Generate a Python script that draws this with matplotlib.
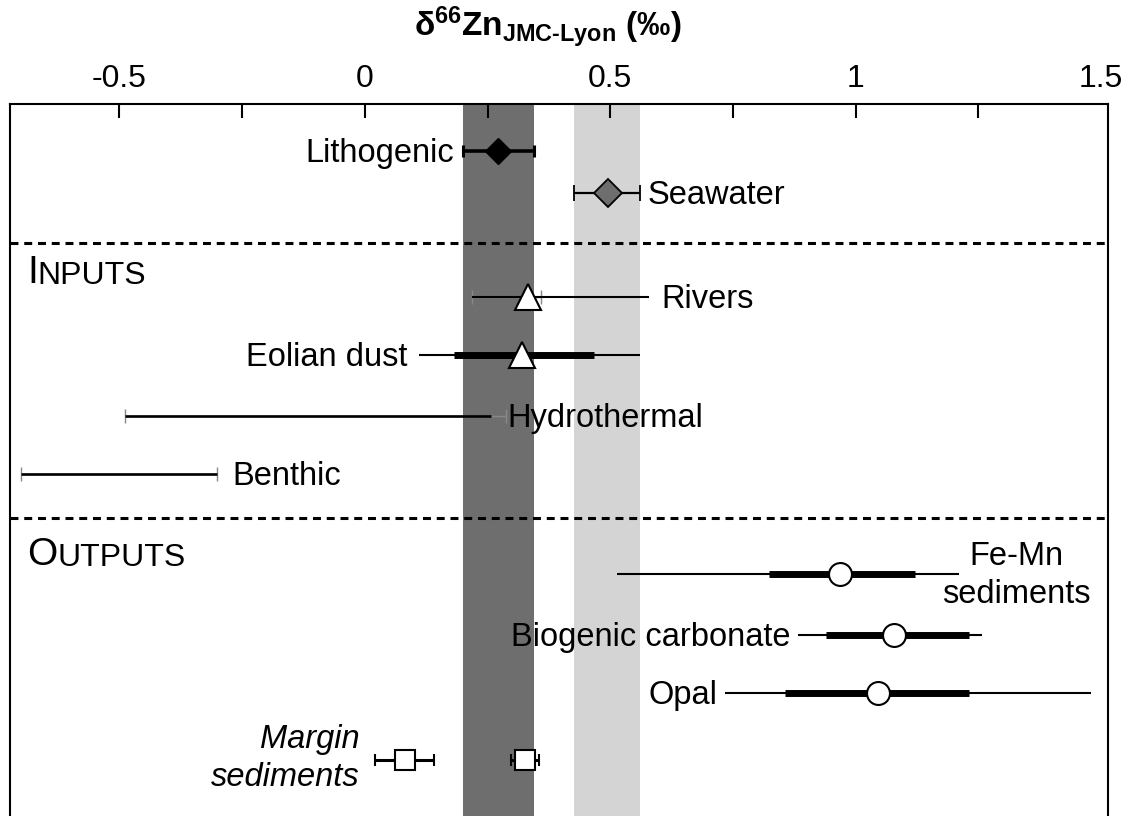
import numpy as np
import matplotlib
matplotlib.use('Agg')
import matplotlib.pyplot as plt

plt.rcParams['font.family'] = ['Liberation Sans', 'DejaVu Sans']
plt.rcParams['mathtext.fontset'] = 'custom'
plt.rcParams['mathtext.rm'] = 'Liberation Sans'
plt.rcParams['mathtext.bf'] = 'Liberation Sans:bold'
plt.rcParams['mathtext.it'] = 'Liberation Sans:italic'

# --- data (d66Zn, permil) ---
# reference reservoirs: mean and range (also used for the shaded bands)
lith_mean = 0.271
lith_range = [0.199, 0.344]
sw_mean = 0.496
sw_range = [0.426, 0.560]

# inputs
rivers_mean = 0.333
rivers_err = [0.219, 0.359]
rivers_max = 0.578
eolian_mean = 0.321
eolian_iqr = [0.181, 0.466]
eolian_range = [0.110, 0.560]
hydro_range = [-0.489, 0.287]
hydro_core = [-0.489, 0.257]
benthic_range = [-0.700, -0.302]

# outputs
out_names = ['Fe-Mn\nsediments', 'Biogenic carbonate', 'Opal']
out_mean = [0.969, 1.078, 1.045]
out_iqr_lo = [0.824, 0.939, 0.855]
out_iqr_hi = [1.121, 1.230, 1.230]
out_min = [0.514, 0.883, 0.734]
out_max = [1.211, 1.258, 1.479]

margin_mean = [0.081, 0.326]
margin_lo = [0.020, 0.298]
margin_hi = [0.140, 0.354]

x_ticks = [-0.5, -0.25, 0, 0.25, 0.5, 0.75, 1, 1.25, 1.5]

# --- layout (rows counted from top of the figure) ---
row_lith, row_sw = 151, 193
row_rivers, row_eolian, row_hydro, row_benthic = 297, 355, 416, 474
out_rows = [574, 635, 693]
row_margin = 760
sep_rows = [243, 518]

FS = 23.5
fig = plt.figure(figsize=(11.28, 8.16), dpi=100)
ax = fig.add_axes([10 / 1128, 0, 1098 / 1128, 712 / 816])
ax.set_xlim(-0.723, 1.514)
ax.set_ylim(816, 104)

# shaded bands
ax.axvspan(lith_range[0], lith_range[1], color='#6e6e6e', lw=0, zorder=0)
ax.axvspan(sw_range[0], sw_range[1], color='#d4d4d4', lw=0, zorder=0)

# dashed separators
for r in sep_rows:
    ax.axhline(r, color='black', lw=2.2, dashes=(2.6, 1.9), zorder=1)


def label(txt, x, y, side, gap, **kw):
    dx = gap * 0.72 if side == 'right' else -gap * 0.72
    ax.annotate(txt, (x, y), xytext=(dx, -8.2), textcoords='offset points',
                ha='left' if side == 'right' else 'right', va='baseline',
                fontsize=FS, **kw)


def line(x0, x1, y, lw, z=2):
    ax.plot([x0, x1], [y, y], color='black', lw=lw, solid_capstyle='butt', zorder=z)


# Lithogenic
ax.errorbar(lith_mean, row_lith,
            xerr=[[lith_mean - lith_range[0]], [lith_range[1] - lith_mean]],
            fmt='D', ms=13.5, mfc='black', mec='black', ecolor='black',
            elinewidth=2.6, capsize=4, capthick=2.2, zorder=4)
label('Lithogenic', lith_range[0], row_lith, 'left', 8)

# Seawater
ax.errorbar(sw_mean, row_sw,
            xerr=[[sw_mean - sw_range[0]], [sw_range[1] - sw_mean]],
            fmt='D', ms=14, mfc='#6e6e6e', mec='black', mew=1.3, ecolor='black',
            elinewidth=1.6, capsize=5.5, capthick=1.3, zorder=4)
label('Seawater', sw_range[1], row_sw, 'right', 8)

# INPUTS / OUTPUTS headings (small caps look)
for first, rest, r in [('I', 'NPUTS', 283), ('O', 'UTPUTS', 565)]:
    t = ax.text(17 / 1098, r, first, transform=ax.get_yaxis_transform(),
                fontsize=28, va='baseline', ha='left')
    ax.annotate(rest, xy=(1, 0), xycoords=t, fontsize=23,
                va='bottom', ha='left')

# Rivers
ax.errorbar(rivers_mean, row_rivers,
            xerr=[[rivers_mean - rivers_err[0]], [rivers_err[1] - rivers_mean]],
            fmt='none', ecolor='#888888', elinewidth=1, capsize=5, capthick=1, zorder=2)
line(rivers_err[0], rivers_max, row_rivers, 1.5)
ax.plot(rivers_mean, row_rivers, '^', ms=19, mfc='white', mec='black', mew=1.5, zorder=4)
label('Rivers', rivers_max, row_rivers, 'right', 13)

# Eolian dust
line(eolian_range[0], eolian_range[1], row_eolian, 1.5)
line(eolian_iqr[0], eolian_iqr[1], row_eolian, 5, z=3)
ax.plot(eolian_mean, row_eolian, '^', ms=19, mfc='white', mec='black', mew=1.5, zorder=4)
label('Eolian dust', eolian_range[0], row_eolian, 'left', 11)

# Hydrothermal
hydro_mid = np.mean(hydro_range)
ax.errorbar(hydro_mid, row_hydro,
            xerr=[[hydro_mid - hydro_range[0]], [hydro_range[1] - hydro_mid]],
            fmt='none', ecolor='#888888', elinewidth=1, capsize=5, capthick=1, zorder=2)
line(hydro_core[0], hydro_core[1], row_hydro, 1.9)
label('Hydrothermal', hydro_range[1], row_hydro, 'right', 2)

# Benthic
ax.errorbar(np.mean(benthic_range), row_benthic,
            xerr=(benthic_range[1] - benthic_range[0]) / 2,
            fmt='none', ecolor='#888888', elinewidth=1, capsize=5, capthick=1, zorder=2)
line(benthic_range[0], benthic_range[1], row_benthic, 1.9)
label('Benthic', benthic_range[1], row_benthic, 'right', 16)

# Outputs
for i, name in enumerate(out_names):
    y = out_rows[i]
    line(out_min[i], out_max[i], y, 1.5)
    line(out_iqr_lo[i], out_iqr_hi[i], y, 5, z=3)
    ax.plot(out_mean[i], y, 'o', ms=16.5, mfc='white', mec='black', mew=1.5, zorder=4)
    if i == 0:
        ax.annotate(name, (out_max[i], y), xytext=(41, -1), textcoords='offset points',
                    ha='center', va='center', multialignment='center', fontsize=FS,
                    linespacing=1.28)
    else:
        label(name, out_min[i], y, 'left', 8)

# Margin sediments
for m, lo, hi in zip(margin_mean, margin_lo, margin_hi):
    ax.errorbar(m, row_margin, xerr=[[m - lo], [hi - m]], fmt='s', ms=14.5,
                mfc='white', mec='black', mew=1.5, ecolor='black',
                elinewidth=2.2, capsize=4.5, capthick=2.2, zorder=4)
ax.annotate('Margin\nsediments', (margin_lo[0], row_margin), xytext=(-15 * 0.72, 1),
            textcoords='offset points', ha='right', va='center',
            multialignment='right', fontsize=FS, style='italic', linespacing=1.28)

# axes styling
ax.xaxis.set_ticks_position('top')
ax.set_xticks(x_ticks)
ax.set_xticklabels(['%g' % t if t % 0.5 == 0 else '' for t in x_ticks])
ax.tick_params(axis='x', direction='in', length=10, width=1.5, labelsize=23, pad=7)
ax.xaxis.get_major_ticks()[-1].tick2line.set_visible(False)
ax.tick_params(axis='y', left=False, labelleft=False)
ax.spines['bottom'].set_visible(False)
for s in ['top', 'left', 'right']:
    ax.spines[s].set_linewidth(1.5)

fig.text(548 / 1128, 1 - 37 / 816,
         r'$\mathbf{δ^{66}Zn_{JMC‐Lyon}}$ (‰)',
         ha='center', va='baseline', fontsize=24, fontweight='bold')

fig.savefig('out.png', dpi=100)
